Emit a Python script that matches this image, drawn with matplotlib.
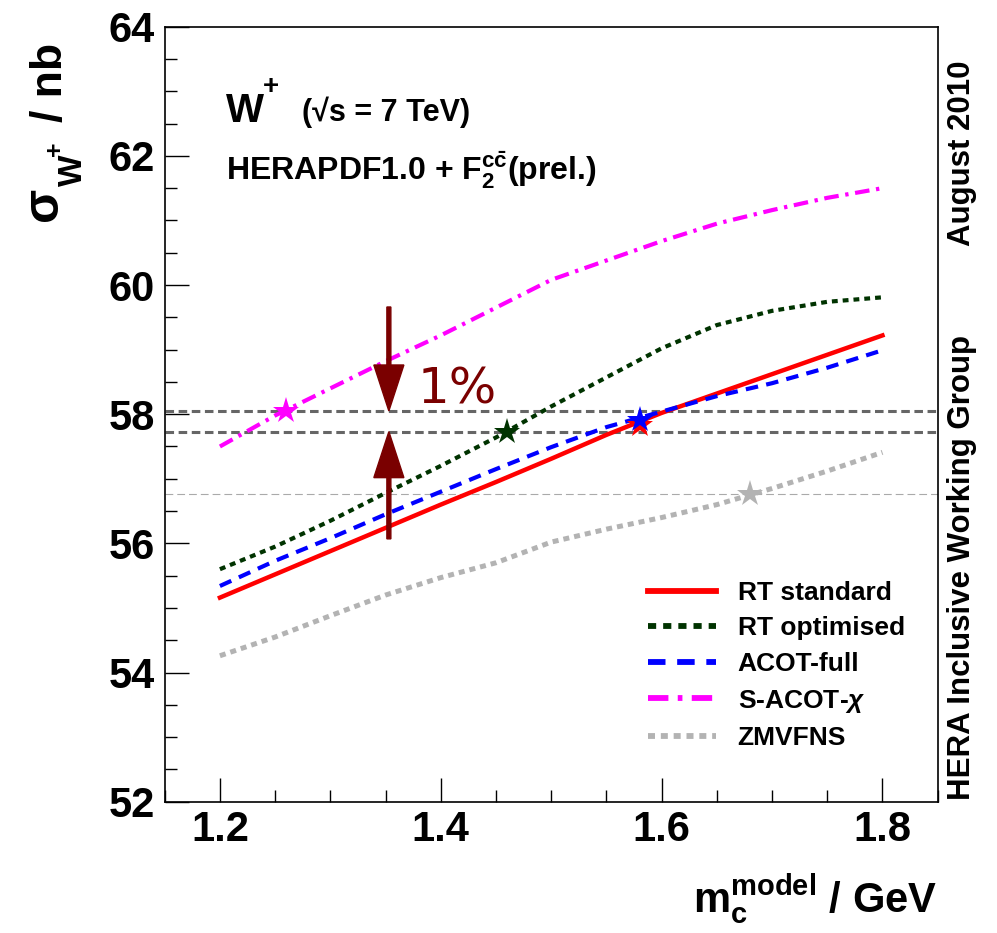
import matplotlib
matplotlib.use("Agg")
import matplotlib.pyplot as plt
from matplotlib.ticker import MultipleLocator

plt.rcParams['font.family'] = ['Liberation Sans', 'DejaVu Sans']
plt.rcParams['font.weight'] = 'bold'
plt.rcParams['mathtext.fontset'] = 'custom'
plt.rcParams['mathtext.rm'] = 'Liberation Sans:bold'
plt.rcParams['mathtext.bf'] = 'Liberation Sans:bold'
plt.rcParams['mathtext.it'] = 'Liberation Sans:italic'
plt.rcParams['mathtext.default'] = 'rm'

# charm mass used in the fit (GeV) and predicted W+ cross section (nb)
m_c = [1.20, 1.25, 1.30, 1.35, 1.40, 1.45, 1.50, 1.55, 1.60, 1.65, 1.70, 1.75, 1.80]
rt_standard = [55.16, 55.52, 55.88, 56.24, 56.60, 56.95, 57.31, 57.68, 58.02, 58.32, 58.62, 58.92, 59.22]
rt_optimised = [55.60, 55.95, 56.35, 56.78, 57.20, 57.64, 58.12, 58.57, 59.02, 59.38, 59.60, 59.74, 59.81]
acot_full = [55.34, 55.73, 56.08, 56.45, 56.80, 57.15, 57.49, 57.80, 58.04, 58.28, 58.48, 58.72, 58.99]
s_acot_chi = [57.50, 57.98, 58.40, 58.82, 59.22, 59.65, 60.08, 60.38, 60.68, 60.95, 61.16, 61.35, 61.50]
zmvfns = [54.26, 54.55, 54.88, 55.20, 55.47, 55.70, 56.02, 56.22, 56.40, 56.60, 56.85, 57.12, 57.41]

# best-fit m_c for each scheme (star markers)
best_mc = [1.58, 1.46, 1.58, 1.26, 1.68]
best_sigma = [57.84, 57.73, 57.91, 58.05, 56.76]

labels = ['RT standard', 'RT optimised', 'ACOT-full', r'S-ACOT-$\mathit{\chi}$', 'ZMVFNS']
colors = ['#ff0000', '#003300', '#0000ff', '#ff00ff', '#b3b3b3']

# 1% band and ZM-VFNS reference level
band_hi = 58.05
band_lo = 57.73
zm_level = 56.76
arrow_x = 1.353
arrow_top = 59.66
arrow_bottom = 56.07

fig = plt.figure(figsize=(9.97, 9.33), dpi=100)
ax = fig.add_axes([0.1652, 0.1407, 0.7753, 0.8307])

ax.axhline(band_hi, color='#666666', lw=2.2, ls=(0, (2.8, 1.5)), zorder=1)
ax.axhline(band_lo, color='#666666', lw=2.2, ls=(0, (2.8, 1.5)), zorder=1)
ax.axhline(zm_level, color='#aaaaaa', lw=0.8, ls=(0, (7, 3.6)), zorder=1)

series = [rt_standard, rt_optimised, acot_full, s_acot_chi, zmvfns]
styles = ['-', (0, (1.4, 1.2)), (0, (3, 2)), (0, (3.5, 1.6, 0.8, 1.6)), (0, (1.2, 1.0))]
widths = [3.2, 3.0, 3.0, 3.0, 3.6]
for ys, lab, col, ls, lw in zip(series, labels, colors, styles, widths):
    ax.plot(m_c, ys, color=col, ls=ls, lw=lw, label=lab, zorder=2)

for x, y, col in zip(best_mc, best_sigma, colors):
    ax.plot(x, y, marker='*', ms=20, color=col, mec=col, mew=0, zorder=3)

# arrows marking the 1% band
arrow_col = '#7a0000'
ax.arrow(arrow_x, arrow_top, 0, band_hi - arrow_top, width=0.0036,
         head_width=0.0272, head_length=0.712, length_includes_head=True,
         color=arrow_col, zorder=4)
ax.arrow(arrow_x, arrow_bottom, 0, band_lo - arrow_bottom, width=0.0036,
         head_width=0.0272, head_length=0.712, length_includes_head=True,
         color=arrow_col, zorder=4)
ax.text(1.3794, 58.17, '1%', fontsize=36, color=arrow_col,
        family='DejaVu Sans', weight='normal', va='baseline')

ax.set_xlim(1.15, 1.85)
ax.set_ylim(52, 64)
ax.xaxis.set_major_locator(MultipleLocator(0.2))
ax.xaxis.set_minor_locator(MultipleLocator(0.05))
ax.yaxis.set_major_locator(MultipleLocator(2))
ax.yaxis.set_minor_locator(MultipleLocator(0.5))
ax.tick_params(which='both', direction='in', top=False, right=False, width=1.0)
ax.tick_params(which='major', length=17, labelsize=30)
ax.tick_params(axis='y', which='major', pad=7)
ax.tick_params(axis='x', which='major', pad=6)
ax.tick_params(which='minor', length=8.6)
for sp in ax.spines.values():
    sp.set_linewidth(1.2)

leg = ax.legend(loc='upper left', bbox_to_anchor=(0.625, 0.285), frameon=False,
                fontsize=19, handlelength=2.6, handletextpad=0.8,
                labelspacing=0.44, borderpad=0, borderaxespad=0)
for line in leg.get_lines():
    line.set_linewidth(4.2)

# header text
ax.text(0.0793, 0.8774, 'W', transform=ax.transAxes, fontsize=29, va='baseline')
ax.text(0.1270, 0.9222, '+', transform=ax.transAxes, fontsize=20, va='center')
ax.text(0.1772, 0.8777, '(√s = 7 TeV)', transform=ax.transAxes, fontsize=22, va='baseline')
ax.text(0.0793, 0.8022, r'HERAPDF1.0 + F$_{2}^{c\bar{c}}$(prel.)', transform=ax.transAxes,
        fontsize=23, va='baseline')

# y-axis title built from pieces so the subscript keeps its size
def ylab(px, py, s, size):
    fig.text(px / 997, (933 - py) / 933, s, rotation=90, rotation_mode='anchor',
             ha='left', va='baseline', fontsize=size)

ylab(57, 221, 'σ', 36)
ylab(82, 186, 'W', 24)
ylab(62, 156, '+', 18)
ylab(62, 122, '/ nb', 32)

fig.text(937 / 997, 21 / 933, r'm$_{c}^{model}$ / GeV', ha='right', va='baseline', fontsize=30)
fig.text(962 / 997, (933 - 60) / 933, 'August 2010', rotation=90, ha='center', va='top', fontsize=22.5)
fig.text(962 / 997, (933 - 800) / 933, 'HERA Inclusive Working Group', rotation=90,
         ha='center', va='bottom', fontsize=22.5)

fig.savefig('out.png', dpi=100)
